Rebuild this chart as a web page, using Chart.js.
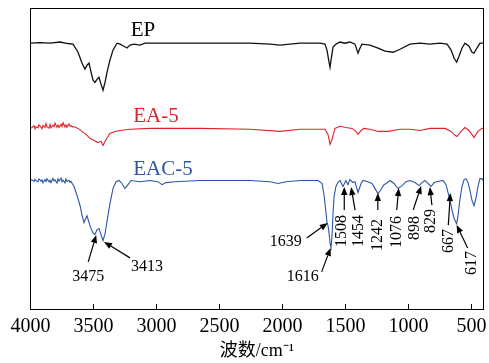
<!DOCTYPE html>
<html>
<head>
<meta charset="utf-8">
<script src="https://cdn.jsdelivr.net/npm/chart.js@4/dist/chart.umd.min.js"></script>
<style>
  html, body { margin: 0; padding: 0; background: #fff; }
  #wrap { width: 489px; height: 363px; }
</style>
</head>
<body>
<div id="wrap"><canvas id="myChart" width="489" height="363"></canvas></div>
<script>
// wavenumber (cm-1) and offset transmittance (a.u.)
var epWn = [4000,3921,3841,3762,3699,3659,3619,3588,3564,3548,3532,3516,3500,3485,3469,3453,3437,3421,3405,3389,3366,3342,3310,3286,3255,3231,3207,3175,3128,3088,2969,2652,2255,2097,2017,1938,1859,1700,1661,1645,1637,1629,1621,1613,1597,1574,1542,1502,1463,1423,1407,1399,1383,1367,1304,1240,1185,1121,1066,987,907,828,749,693,661,637,617,598,574,551,519,495,479,456,432,400];
var epT  = [88.3,88.5,88.3,88.7,88.2,88,85.3,81.7,79.7,81,81.7,78.7,76,75.3,76.3,77,74.7,72.7,75.3,78.7,82.7,86,88.3,88,87.3,86.7,87.7,88,87.7,88.3,88.3,88.3,88.3,88,87.7,88,88.3,88.3,88,86,84,82,80.3,82.7,87,88,88.7,88.3,88.7,88,86,85,86.7,88,87.7,86.7,85.7,85.3,86.3,88,88.3,88,88.3,88,86,83.3,82,84,86.7,88.3,87.3,85.3,85,86.7,88.3,88.3];

var eaWn = [4000,3984,3968,3960,3952,3937,3929,3913,3905,3897,3881,3873,3865,3849,3841,3833,3818,3810,3802,3786,3778,3770,3754,3746,3738,3723,3715,3707,3691,3683,3675,3659,3651,3619,3588,3556,3524,3492,3461,3437,3421,3397,3366,3326,3286,3207,3048,2652,2255,2017,1859,1661,1637,1621,1605,1582,1542,1495,1447,1415,1399,1375,1352,1304,1240,1161,1066,987,907,828,709,661,630,614,582,551,519,479,448,416,400];
var eaT  = [60,60.3,60.9,59.8,60.6,60.2,61.2,60.4,59.9,61,60.3,61.6,60.5,60.1,61.3,60.2,61,60.6,61.8,60.4,61.1,60.3,61.4,60.6,61.9,60.5,61.2,60.4,61.5,60.7,60.9,60.4,60.6,60,59,58,56.7,56,55.3,55.7,54.3,56.3,58.3,59,59.3,59.7,60,60,59.7,59,59.7,59.7,58,54.7,56.3,60,60.7,60.3,60,59,58,59.3,60,59.7,59,59,59.7,59.7,59.3,60,60,59,57.7,57.3,59,60.3,59.3,57,59,60,60];

var eacWn = [4000,3984,3968,3960,3952,3937,3929,3913,3905,3897,3881,3873,3865,3849,3841,3833,3818,3810,3802,3786,3778,3770,3754,3746,3738,3723,3715,3707,3691,3683,3675,3651,3627,3603,3588,3572,3556,3548,3532,3516,3500,3485,3469,3453,3437,3421,3405,3389,3366,3342,3318,3294,3271,3247,3223,3199,3128,3048,2985,2953,2922,2850,2652,2255,2097,2033,1970,1859,1716,1684,1668,1653,1645,1637,1629,1621,1613,1605,1597,1589,1574,1558,1542,1518,1495,1479,1463,1439,1423,1399,1375,1359,1320,1288,1264,1240,1217,1193,1177,1145,1114,1082,1050,1018,987,947,915,891,868,844,820,796,773,725,701,685,669,653,637,617,606,590,574,558,542,527,511,495,479,463,448,432,416,400];
var eacT  = [42.7,42.9,42.4,43.1,42.6,42.3,43.2,42.5,42.9,41.9,43,42.4,43.3,42.2,42.8,42,43.4,42.6,42.9,41.8,43.2,42.5,43.5,42.3,42.8,41.9,43.2,42.4,42.8,42.1,42.4,40.7,37.7,34.3,31.3,28.7,30.3,31,28.7,26.7,25.3,24.7,26.3,26.7,24.7,22.7,25,29.3,35,40,42.3,42.7,41.7,40,41.3,42.7,42.3,42.7,42.3,41.3,42,42.3,42.7,42.7,42.3,41.7,42.3,42.7,42.7,41.7,37.7,32,28.7,27.7,25.3,22,20.3,24.3,32,37.3,40.7,42,42.7,40.7,42.7,41.3,43,42,42.3,38.7,41.7,42.7,42.3,41.7,40,38.3,39.7,41.3,41.7,42.7,41.7,40,41,42.3,42.7,42,41,42,42.7,41.7,40.7,42,42.3,42.7,41.3,38.7,36,32.7,30,28.3,31,36.7,40.7,43,43.3,42,39.3,36,34.3,37,40.7,43.3,43.3,42.3];

var tickVals = [4000,3500,3000,2500,2000,1500,1000,500];
var seriesNames = ["EP","EA-5","EAC-5"];
var xTitle = "波数/cm⁻¹";

// marked peaks on EAC-5 (wavenumber, value at arrow tip)
var peakWn = [3475,3413,1639,1616,1508,1454,1242,1076,898,829,667,617];
var peakT  = [24.6,22.3,28.6,20.3,40.5,40.5,38.5,40.2,40.9,40.5,38.5,27.9];

// arrow tail offset and label offset from the tip (px), rotated or not
var arrowLayout = [
  {tx:-8, ty:27, lx:-8, ly:42, rot:false},
  {tx:26, ty:16, lx:43, ly:25, rot:false},
  {tx:-21, ty:15, lx:-42, ly:19, rot:false},
  {tx:-9, ty:24, lx:-28, ly:29, rot:false},
  {tx:0, ty:23, lx:-2, ly:44, rot:true},
  {tx:4, ty:23, lx:8, ly:44, rot:true},
  {tx:0, ty:17, lx:0, ly:42, rot:true},
  {tx:-2, ty:22, lx:-2, ly:44, rot:true},
  {tx:-8, ty:24, lx:-6, ly:42, rot:true},
  {tx:2, ty:18, lx:1, ly:34, rot:true},
  {tx:-2, ty:32, lx:-2, ly:48, rot:true},
  {tx:11, ty:23, lx:15, ly:38, rot:true}
];

var serif = "'Liberation Serif', 'Times New Roman', serif";
var cjk = "'Liberation Serif', 'Noto Sans CJK SC', serif";

function pts(wn, t) {
  var out = [];
  for (var i = 0; i < wn.length; i++) out.push({x: wn[i], y: t[i]});
  return out;
}

function arrow(ctx, x0, y0, x1, y1) {
  var ang = Math.atan2(y1 - y0, x1 - x0);
  var len = 8, w = 3.2;
  var bx = x1 - len * Math.cos(ang), by = y1 - len * Math.sin(ang);
  ctx.beginPath();
  ctx.moveTo(x0, y0);
  ctx.lineTo(bx, by);
  ctx.stroke();
  ctx.beginPath();
  ctx.moveTo(x1, y1);
  ctx.lineTo(bx + w * Math.sin(ang), by - w * Math.cos(ang));
  ctx.lineTo(bx - w * Math.sin(ang), by + w * Math.cos(ang));
  ctx.closePath();
  ctx.fill();
}

var extras = {
  id: 'extras',
  afterDraw: function(chart) {
    var ctx = chart.ctx, a = chart.chartArea;
    var xs = chart.scales.x, ys = chart.scales.y;
    ctx.save();
    // frame
    ctx.strokeStyle = '#000';
    ctx.lineWidth = 1;
    ctx.strokeRect(Math.round(a.left) + 0.5, Math.round(a.top) + 0.5, Math.round(a.right - a.left) - 1, Math.round(a.bottom - a.top));
    // inward ticks + labels on the bottom axis
    ctx.fillStyle = '#000';
    ctx.font = '20px ' + serif;
    ctx.textAlign = 'center';
    ctx.textBaseline = 'middle';
    for (var i = 0; i < tickVals.length; i++) {
      var px = Math.round(xs.getPixelForValue(tickVals[i])) + 0.5;
      ctx.beginPath();
      ctx.moveTo(px, a.bottom);
      ctx.lineTo(px, a.bottom - 5);
      ctx.stroke();
      ctx.fillText(String(tickVals[i]), px, a.bottom + 18);
    }
    ctx.font = '18px ' + cjk;
    ctx.fillText(xTitle, (a.left + a.right) / 2, a.bottom + 42);
    // series names
    ctx.font = '21px ' + serif;
    ctx.fillStyle = '#000';
    ctx.fillText(seriesNames[0], 143, 30);
    ctx.fillStyle = '#e0232b';
    ctx.fillText(seriesNames[1], 156, 116);
    ctx.fillStyle = '#2d55a6';
    ctx.fillText(seriesNames[2], 163, 169);
    // peak arrows
    ctx.fillStyle = '#000';
    ctx.strokeStyle = '#000';
    ctx.lineWidth = 1.2;
    ctx.font = '16px ' + serif;
    for (var k = 0; k < peakWn.length; k++) {
      var L = arrowLayout[k];
      var tx = xs.getPixelForValue(peakWn[k]);
      var ty = ys.getPixelForValue(peakT[k]);
      arrow(ctx, tx + L.tx, ty + L.ty, tx, ty);
      ctx.save();
      ctx.translate(tx + L.lx, ty + L.ly);
      if (L.rot) ctx.rotate(-Math.PI / 2);
      ctx.fillText(String(peakWn[k]), 0, 0);
      ctx.restore();
    }
    ctx.restore();
  }
};

new Chart(document.getElementById("myChart"), {
  type: 'line',
  data: {
    datasets: [
      {label: seriesNames[0], data: pts(epWn, epT), borderColor: '#111', borderWidth: 1.3},
      {label: seriesNames[1], data: pts(eaWn, eaT), borderColor: '#e0232b', borderWidth: 1.1},
      {label: seriesNames[2], data: pts(eacWn, eacT), borderColor: '#2d55a6', borderWidth: 1.1}
    ]
  },
  options: {
    responsive: false,
    animation: false,
    parsing: false,
    elements: {point: {radius: 0}, line: {tension: 0}},
    layout: {padding: {left: 30, right: 5, top: 8, bottom: 54}},
    plugins: {legend: {display: false}, tooltip: {enabled: false}},
    scales: {
      x: {
        type: 'linear',
        display: false,
        reverse: true,
        min: 400,
        max: 4000
      },
      y: {
        display: false,
        min: 0,
        max: 100
      }
    }
  },
  plugins: [extras]
});
</script>
</body>
</html>
